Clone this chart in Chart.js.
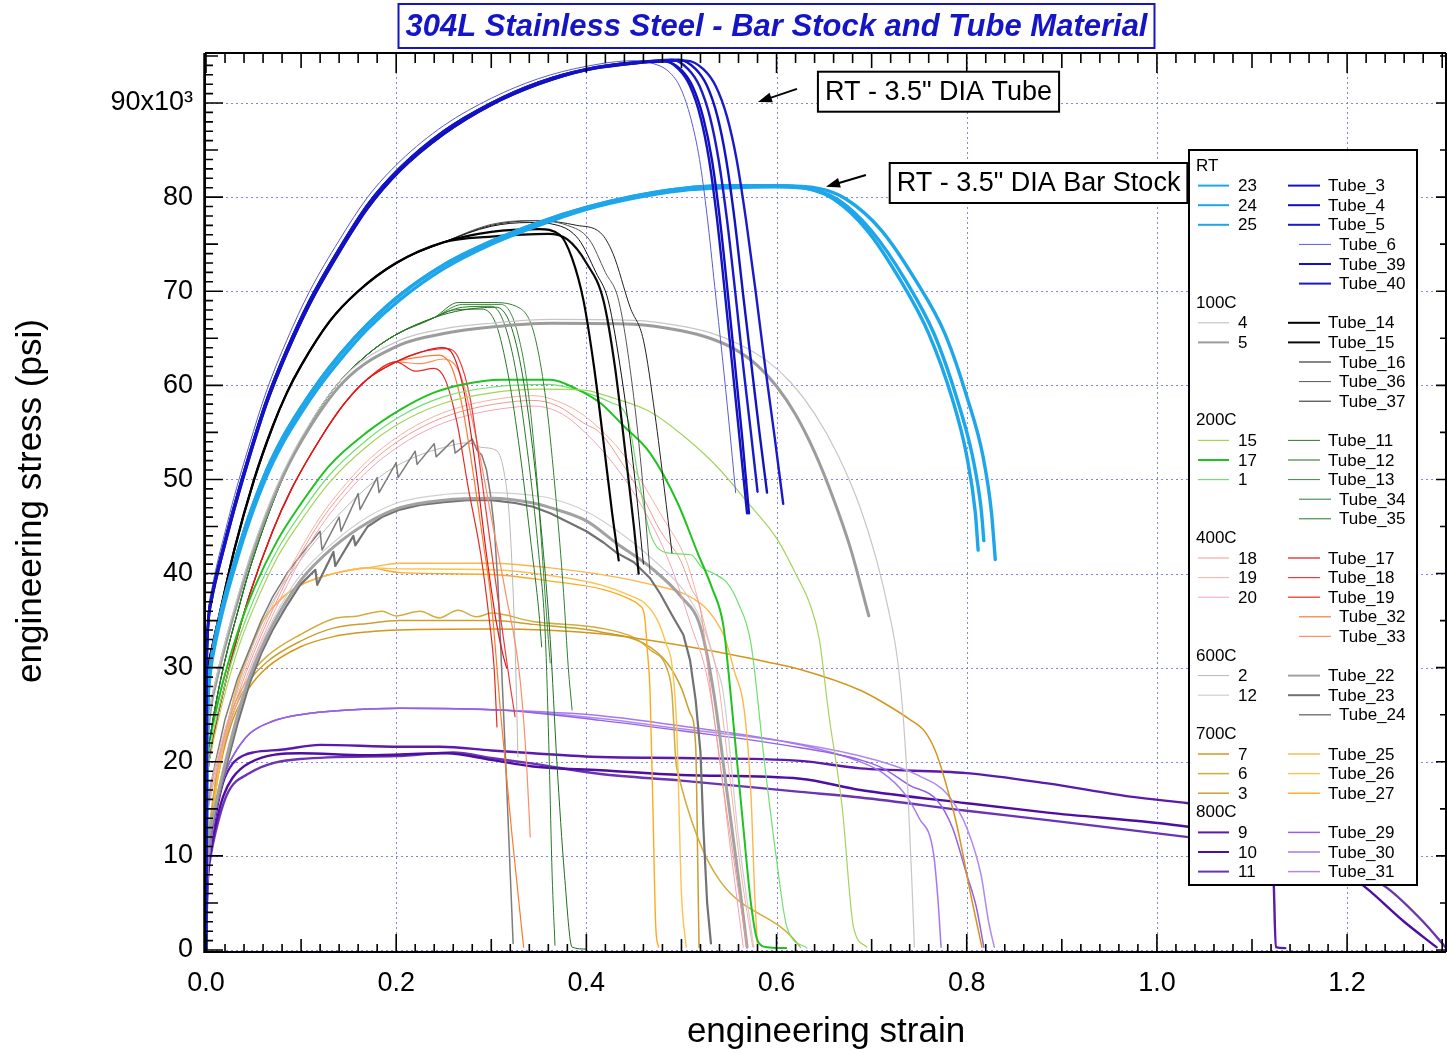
<!DOCTYPE html>
<html><head><meta charset="utf-8">
<script src="https://cdn.jsdelivr.net/npm/chart.js@4.4.1/dist/chart.umd.min.js"></script>
<style>html,body{margin:0;padding:0;background:#fff;}canvas{display:block;}</style>
</head><body>
<canvas id="c" width="1447" height="1053" style="width:1447px;height:1053px"></canvas>
<script>
// ---------- axis ticks ----------
const xTickValues = [0, 0.2, 0.4, 0.6, 0.8, 1.0, 1.2];
const xTickLabels = ['0.0', '0.2', '0.4', '0.6', '0.8', '1.0', '1.2'];
const yTickValues = [0, 10, 20, 30, 40, 50, 60, 70, 80, 90];
const yTickLabels = ['0', '10', '20', '30', '40', '50', '60', '70', '80', '90x10\u00B3'];
const X_MAX = 1.304;
const Y_MAX = 95.42;   // stress in ksi (x10^3 psi)

// ---------- RT : bar stock 23/24/25 ----------
const rtBarRiseA = [[0,0],[0.0009,22],[0.0018,26.5],[0.003,28.6],[0.005,30.5],[0.01,33.3],[0.02,37.6],[0.03,41.2],[0.045,46],[0.064,51],[0.081,54.5],[0.099,57.5],[0.12,60.6],[0.141,63.3],[0.17,66.5],[0.204,69.6],[0.25,72.8],[0.3,75.3],[0.35,77.3],[0.4,78.9],[0.45,80.1],[0.5,80.9],[0.55,81.2],[0.6,81.2]];
const rtBarRiseB = [[0,0],[0.0009,21],[0.0018,25.9],[0.003,28],[0.005,29.9],[0.01,32.7],[0.02,37],[0.03,40.6],[0.045,45.4],[0.064,50.4],[0.081,53.9],[0.099,56.9],[0.12,60],[0.141,62.7],[0.17,66],[0.204,69.1],[0.25,72.4],[0.3,75],[0.35,77],[0.4,78.7],[0.45,79.9],[0.5,80.7],[0.55,81],[0.6,81.1]];
const bar23 = rtBarRiseA.concat([[0.633,80.9],[0.66,79.8],[0.695,76.5],[0.73,71.2],[0.76,65.5],[0.785,58.5],[0.8,52.5],[0.809,46.5],[0.812,42.5]]);
const bar24 = rtBarRiseB.concat([[0.638,80.8],[0.665,79.7],[0.7,76.4],[0.736,71.1],[0.766,65.4],[0.79,58.5],[0.806,52.5],[0.815,47],[0.818,43.5]]);
const bar25 = rtBarRiseA.concat([[0.645,80.9],[0.673,79.8],[0.71,76.5],[0.746,71.2],[0.777,65.5],[0.801,58.5],[0.817,52.5],[0.826,46.5],[0.83,41.5]]);
// ---------- RT : tubes ----------
const rtTubeRiseA = [[0,0],[0.0008,30],[0.0015,33.5],[0.003,35.8],[0.006,37.6],[0.01,39.5],[0.02,43.5],[0.03,47.3],[0.045,52.5],[0.064,58.5],[0.085,63.8],[0.109,69],[0.14,74.5],[0.17,79.2],[0.204,83.1],[0.25,87],[0.3,90],[0.35,92.2],[0.4,93.6],[0.45,94.3]];
const rtTubeRiseB = [[0,0],[0.0008,29.6],[0.0015,33.1],[0.003,35.4],[0.006,37.2],[0.01,39.1],[0.02,43.1],[0.03,46.9],[0.045,52.1],[0.064,58.1],[0.085,63.4],[0.109,68.6],[0.14,74.1],[0.17,78.8],[0.204,82.8],[0.25,86.7],[0.3,89.8],[0.35,92],[0.4,93.5],[0.45,94.2]];
const rtTubeRiseC = [[0,0],[0.0008,30.5],[0.0015,34.1],[0.003,36.5],[0.006,38.3],[0.01,40.3],[0.02,44.4],[0.03,48.3],[0.045,53.5],[0.064,59.5],[0.085,64.8],[0.109,70],[0.14,75.4],[0.17,80],[0.204,83.8],[0.25,87.6],[0.3,90.5],[0.35,92.6],[0.4,93.9],[0.45,94.5]];
const tube3 = rtTubeRiseA.concat([[0.48,94.5],[0.497,93.6],[0.509,91.8],[0.52,88.5],[0.529,84],[0.537,78],[0.545,70.5],[0.553,62.5],[0.561,54.5],[0.569,46.4]]);
const tube4 = rtTubeRiseB.concat([[0.483,94.4],[0.5,93.5],[0.512,91.7],[0.523,88.4],[0.532,84],[0.54,78],[0.548,70.5],[0.556,62.5],[0.564,54.3],[0.571,46.4]]);
const tube5 = rtTubeRiseA.concat([[0.49,94.6],[0.507,93.6],[0.519,91.8],[0.53,88.5],[0.539,84],[0.548,77.5],[0.557,69.5],[0.565,62],[0.573,55],[0.58,48.7]]);
const tube6 = rtTubeRiseC.concat([[0.47,94.2],[0.487,93.3],[0.499,91.6],[0.51,88.3],[0.519,84],[0.527,78],[0.535,70.5],[0.543,63],[0.55,56],[0.557,48.6]]);
const tube39 = rtTubeRiseB.concat([[0.497,94.6],[0.515,93.6],[0.527,91.8],[0.538,88.5],[0.547,84],[0.556,77.5],[0.565,69.5],[0.574,61.8],[0.582,55],[0.59,48.6]]);
const tube40 = rtTubeRiseA.concat([[0.505,94.5],[0.523,93.6],[0.536,91.8],[0.548,88.5],[0.558,84],[0.568,77.5],[0.578,70],[0.588,62],[0.598,54.5],[0.607,47.4]]);

// ---------- 100C ----------
const bar4 = [[0,0],[0.0012,20.4],[0.0025,23.9],[0.005,26.2],[0.01,28.6],[0.02,32.7],[0.035,38.1],[0.05,42.9],[0.074,49.2],[0.1,54.4],[0.144,60.8],[0.204,64.8],[0.25,66],[0.3,66.6],[0.363,67],[0.45,66.9],[0.5,66.3],[0.53,65.6],[0.56,64.4],[0.59,62.6],[0.615,60.3],[0.64,57],[0.665,52.5],[0.688,47],[0.705,41.5],[0.718,36],[0.727,31],[0.733,25],[0.738,17],[0.742,8],[0.745,0.3]];
const bar5 = [[0,0],[0.0012,20],[0.0025,23.5],[0.005,25.8],[0.01,28.2],[0.02,32.3],[0.035,37.7],[0.05,42.5],[0.074,48.8],[0.1,54],[0.144,60.3],[0.204,64.3],[0.25,65.5],[0.3,66.2],[0.363,66.6],[0.45,66.5],[0.5,65.8],[0.53,65],[0.555,63.9],[0.58,62.1],[0.6,59.9],[0.62,56.9],[0.64,52.9],[0.66,47.9],[0.678,42.6],[0.697,35.5]];
const tube100Rise = [[0,0],[0.0008,25],[0.0016,28.5],[0.003,30.3],[0.007,32.4],[0.015,36],[0.03,42.6],[0.05,49.8],[0.07,55.6],[0.085,59.2],[0.1,62.1],[0.13,66.8],[0.16,70],[0.2,73],[0.25,75.2]];
const tube14 = tube100Rise.concat([[0.3,76.3],[0.35,76.6],[0.372,76],[0.385,73.5],[0.397,69],[0.408,62],[0.418,54],[0.427,46.5],[0.434,41.4]]);
const tube15 = tube100Rise.concat([[0.3,75.8],[0.36,76.1],[0.38,75.5],[0.4,73],[0.418,69],[0.43,62],[0.442,52],[0.45,45],[0.455,40]]);
const tube16 = tube100Rise.concat([[0.3,76.9],[0.34,77.3],[0.37,77],[0.392,75.5],[0.41,72],[0.423,69],[0.437,61],[0.45,51],[0.46,41]]);
const tube36 = tube100Rise.concat([[0.3,77.1],[0.34,77.5],[0.38,77],[0.403,75.5],[0.42,72],[0.434,69],[0.447,61],[0.458,51],[0.467,40]]);
const tube37 = tube100Rise.concat([[0.3,77],[0.35,77.5],[0.39,77],[0.415,76.2],[0.428,74],[0.446,68.3],[0.46,64.8],[0.472,57],[0.482,49],[0.49,42.2]]);

// ---------- 200C ----------
const bar15 = [[0,0],[0.001,15],[0.002,18.5],[0.005,20.8],[0.01,23.2],[0.02,27.3],[0.035,32.4],[0.05,36.3],[0.075,41.7],[0.099,45.5],[0.13,49.7],[0.169,53.5],[0.204,56],[0.25,58.1],[0.3,59.2],[0.35,59.6],[0.397,59.5],[0.43,58.6],[0.467,57.2],[0.5,54.8],[0.538,51.3],[0.57,47.5],[0.601,43.6],[0.62,40],[0.636,36.5],[0.645,33],[0.655,25],[0.669,15.2],[0.681,2.4],[0.695,0.3]];
const bar17 = [[0,0],[0.001,17],[0.002,20.5],[0.005,22.8],[0.01,25.2],[0.02,29.3],[0.035,34.3],[0.05,38.3],[0.075,43.5],[0.099,47.3],[0.13,51.5],[0.169,55],[0.204,57.4],[0.239,59.2],[0.27,60.1],[0.31,60.6],[0.362,60.6],[0.39,59.6],[0.415,58.1],[0.44,55.6],[0.467,52.8],[0.496,47.5],[0.517,42.2],[0.532,38.5],[0.544,34.5],[0.55,29],[0.555,23.7],[0.565,13.1],[0.573,5],[0.58,1],[0.59,0.3],[0.61,0.2]];
const bar1 = [[0,0],[0.001,16],[0.002,19.5],[0.005,21.8],[0.01,24.2],[0.02,28.2],[0.035,33.2],[0.05,37.2],[0.075,42.5],[0.099,46.3],[0.13,50.5],[0.169,54.2],[0.204,56.7],[0.25,58.8],[0.3,59.8],[0.36,60.1],[0.4,59.2],[0.425,58.2],[0.443,56.6],[0.455,50],[0.467,44.3],[0.485,42.2],[0.51,42],[0.522,40.6],[0.534,40],[0.548,39],[0.56,36.8],[0.573,32.6],[0.587,20.2],[0.6,9.6],[0.611,2.4],[0.632,0.2]];
const tube200Rise = [[0,0],[0.0009,17],[0.002,20.5],[0.005,23],[0.01,26],[0.02,30.8],[0.033,35.8],[0.046,40.5],[0.074,48.5],[0.1,54.2],[0.134,59.6],[0.17,63.3],[0.2,65.4],[0.24,67.2]];
const tube11 = tube200Rise.concat([[0.27,68.3],[0.3,68.4],[0.312,67],[0.325,62],[0.338,53],[0.35,42],[0.357,33],[0.361,20],[0.364,8],[0.367,0.5]]);
const tube12 = tube200Rise.concat([[0.27,68],[0.305,68.3],[0.32,66.5],[0.333,61],[0.345,52],[0.355,42],[0.362,33],[0.369,20],[0.377,8],[0.385,0.3],[0.4,0.1]]);
const tube13 = tube200Rise.concat([[0.27,68.6],[0.31,68.6],[0.325,66.5],[0.338,60],[0.348,50],[0.355,40],[0.36,33],[0.362,30.5]]);
const tube34 = tube200Rise.concat([[0.265,68.8],[0.3,68.8],[0.33,68.2],[0.345,65.5],[0.358,58],[0.368,48],[0.376,38],[0.381,30],[0.385,25.5]]);
const tube35 = tube200Rise.concat([[0.26,68],[0.29,68.1],[0.305,66.5],[0.318,61],[0.33,53],[0.342,43],[0.35,36],[0.353,32.2]]);

// ---------- 400C ----------
const bar18 = [[0,0],[0.001,12],[0.002,15],[0.005,17],[0.01,19.2],[0.02,23],[0.035,27.5],[0.05,31.5],[0.081,38.5],[0.099,42],[0.12,45.5],[0.141,48.3],[0.17,51.5],[0.204,54.2],[0.24,56.2],[0.275,57.4],[0.31,58.1],[0.344,58.4],[0.37,57.8],[0.397,56],[0.415,54.9],[0.439,51.5],[0.46,48],[0.478,44.5],[0.499,41.4],[0.51,38.5],[0.52,36.1],[0.531,27.3],[0.543,18],[0.555,9.6],[0.569,0.3]];
const bar19 = [[0,0],[0.001,12.5],[0.002,15.5],[0.005,17.5],[0.01,19.7],[0.02,23.5],[0.035,28],[0.05,32],[0.081,39],[0.099,42.5],[0.12,46],[0.141,48.8],[0.17,52],[0.204,54.7],[0.24,56.7],[0.275,57.9],[0.31,58.6],[0.344,58.9],[0.37,58.3],[0.4,56.6],[0.44,52.5],[0.48,46],[0.505,41.4],[0.518,37],[0.527,33.5],[0.538,29],[0.55,19],[0.563,8],[0.575,0.3]];
const bar20 = [[0,0],[0.001,11.4],[0.002,14.4],[0.005,16.4],[0.01,18.6],[0.02,22.4],[0.035,26.9],[0.05,30.9],[0.081,37.9],[0.099,41.4],[0.12,44.9],[0.141,47.7],[0.17,50.9],[0.204,53.6],[0.24,55.6],[0.275,56.8],[0.31,57.5],[0.344,57.8],[0.37,57.2],[0.39,55.8],[0.435,50.8],[0.47,45],[0.49,40.5],[0.51,34.5],[0.527,29],[0.538,22],[0.55,12],[0.565,0.3]];
const tube400Rise = [[0,0],[0.001,15],[0.002,18.5],[0.005,21],[0.01,23.8],[0.02,28.2],[0.033,33.3],[0.046,37.8],[0.07,44.5],[0.09,49],[0.12,54.3],[0.145,58],[0.169,60.6],[0.2,62.5]];
const tube17 = tube400Rise.concat([[0.225,63.5],[0.248,64],[0.26,63.2],[0.272,59],[0.284,51],[0.295,42],[0.305,35],[0.312,31.5],[0.316,30]]);
const tube18 = tube400Rise.concat([[0.225,63.5],[0.252,63.9],[0.265,63],[0.278,58.5],[0.29,50],[0.302,41],[0.313,33],[0.32,28],[0.325,24.8]]);
const tube19 = tube400Rise.concat([[0.22,61.5],[0.24,61.8],[0.252,60.5],[0.264,56],[0.276,49],[0.289,42],[0.298,35],[0.303,30],[0.306,23.7]]);
const tube32 = tube400Rise.concat([[0.225,63],[0.245,63.2],[0.258,62],[0.27,57.5],[0.282,50],[0.292,43],[0.3,37],[0.31,25],[0.322,12],[0.334,0.3]]);
const tube33 = tube400Rise.concat([[0.225,62.3],[0.25,62.8],[0.268,61],[0.285,54],[0.3,46],[0.315,38],[0.33,29],[0.337,20],[0.341,12]]);

// ---------- 600C ----------
const bar2 = [[0,0],[0.001,11],[0.002,14],[0.005,16.3],[0.01,18.6],[0.02,23],[0.033,27.8],[0.046,31.5],[0.07,37],[0.1,41.5],[0.13,45.2],[0.16,48.3],[0.19,50.8],[0.22,52.4],[0.25,53.4],[0.275,53.9],[0.29,53.4],[0.305,53.1],[0.313,51],[0.319,46],[0.323,38],[0.326,29],[0.328,20.5]];
const bar12 = [[0,0],[0.001,8],[0.002,11],[0.005,13.3],[0.01,15.8],[0.02,20.2],[0.033,25.3],[0.046,29.5],[0.07,35],[0.099,39.8],[0.134,43.3],[0.17,46],[0.204,47.6],[0.25,48.4],[0.3,48.6],[0.344,48.3],[0.362,48],[0.4,46.6],[0.44,44],[0.47,41.5],[0.5,38.5],[0.52,35.2],[0.535,30.5],[0.544,27.3],[0.56,12],[0.576,0.3]];
const tube22 = [[0,0],[0.001,8],[0.002,11],[0.005,13],[0.01,15.4],[0.02,19.7],[0.033,24.8],[0.046,29],[0.07,34.5],[0.099,39.2],[0.134,42.8],[0.17,45.4],[0.204,47],[0.25,47.8],[0.3,48],[0.344,47.5],[0.362,47],[0.4,45.6],[0.432,43.2],[0.467,40.7],[0.5,37.5],[0.52,34.3],[0.534,27.3],[0.548,16.7],[0.562,6.1],[0.569,0.3]];
const tube23 = [[0,0],[0.001,8],[0.002,10.5],[0.005,12.5],[0.01,15],[0.02,19],[0.033,24],[0.046,28.4],[0.058,31.5],[0.07,34],[0.085,36.6],[0.099,38.8],[0.115,40.4],[0.117,38.8],[0.134,42.3],[0.136,40.8],[0.155,44],[0.157,43],[0.17,45],[0.185,46],[0.204,46.8],[0.225,47.3],[0.25,47.6],[0.275,47.8],[0.3,47.8],[0.325,47.5],[0.344,47.1],[0.362,46.4],[0.38,45.5],[0.4,44.5],[0.418,43.3],[0.432,42.2],[0.45,41.2],[0.467,39.5],[0.478,37.8],[0.49,35.6],[0.502,33.5],[0.509,30.8],[0.515,26.5],[0.52,21],[0.523,13.1],[0.527,5],[0.531,0.7]];
const tube24 = [[0,0],[0.001,12],[0.002,15],[0.005,17.5],[0.01,20],[0.02,24.5],[0.033,28.8],[0.046,32],[0.058,35],[0.07,37.5],[0.085,40],[0.1,42],[0.12,44.5],[0.122,42.5],[0.14,46],[0.142,44.5],[0.16,48.5],[0.162,46.8],[0.18,50.2],[0.182,48.6],[0.2,51.8],[0.202,50.2],[0.22,53],[0.222,51.6],[0.24,53.8],[0.242,52.4],[0.26,54.2],[0.262,52.8],[0.28,54.3],[0.285,53.1],[0.29,52.6],[0.295,51],[0.299,48.5],[0.303,45],[0.307,39],[0.31,32],[0.313,25],[0.316,18],[0.32,8],[0.323,0.7]];

// ---------- 700C ----------
const bar7 = [[0,0],[0.001,8],[0.002,10.5],[0.005,13.2],[0.01,16.8],[0.015,19.6],[0.028,24.4],[0.045,27.8],[0.064,30],[0.099,32.2],[0.134,33.3],[0.17,33.8],[0.204,34],[0.3,34.1],[0.415,33.6],[0.52,32],[0.59,30.6],[0.625,29.8],[0.688,27.6],[0.712,26.3],[0.74,24.5],[0.756,23.2],[0.768,20.9],[0.78,17],[0.79,13.1],[0.805,5.5],[0.816,0.3]];
const bar6 = [[0,0],[0.001,9],[0.002,11.5],[0.005,14.3],[0.01,18],[0.015,20.9],[0.028,25.6],[0.045,29],[0.064,31.2],[0.099,33.5],[0.134,35.2],[0.16,35.5],[0.185,36],[0.2,35.5],[0.225,36],[0.245,35.3],[0.265,36.1],[0.285,35.4],[0.3,35.8],[0.344,34.9],[0.415,34.2],[0.45,33.2],[0.467,31.9],[0.485,29.8],[0.49,27.3],[0.494,20.2],[0.4955,19.1],[0.625,0.3]];
const bar3 = [[0,0],[0.001,8.5],[0.002,11],[0.005,13.8],[0.01,17.4],[0.015,20.2],[0.028,25],[0.045,28.5],[0.064,30.6],[0.099,32.8],[0.134,34.2],[0.17,34.7],[0.204,35],[0.3,35],[0.344,34.6],[0.415,33.8],[0.46,32.6],[0.485,30.5],[0.5,27.8],[0.509,25.2],[0.515,21.6],[0.517,10],[0.5185,0.3]];
const tube700Rise = [[0,0],[0.001,7],[0.002,9.5],[0.005,12.5],[0.011,17.5],[0.018,21.6],[0.025,25],[0.035,28.8],[0.046,31.9],[0.06,35],[0.081,37.5],[0.1,38.8],[0.134,40],[0.17,40.6]];
const tube25 = tube700Rise.concat([[0.204,41.1],[0.3,41.1],[0.362,40.6],[0.433,39.6],[0.47,38.8],[0.502,37.9],[0.513,37.3],[0.524,36.5],[0.534,35.3],[0.545,33.3],[0.556,29.5],[0.566,25.5],[0.573,16.7],[0.577,6],[0.58,0.3]]);
const tube26 = tube700Rise.concat([[0.204,40.5],[0.3,40.4],[0.362,39.8],[0.415,38.8],[0.445,37.7],[0.462,36.8],[0.475,35],[0.484,32.5],[0.49,30.3],[0.495,23.7],[0.5,6],[0.505,0.3]]);
const tube27 = tube700Rise.concat([[0.204,40.1],[0.3,39.9],[0.362,39.2],[0.418,38.3],[0.445,37.3],[0.456,36.6],[0.461,35.6],[0.464,32],[0.467,27.3],[0.47,15],[0.473,2.4],[0.476,0.3]]);

// ---------- 800C ----------
const bar9 = [[0,0],[0.001,6],[0.002,8.5],[0.005,11],[0.01,14.2],[0.018,17.8],[0.028,19.8],[0.04,20.7],[0.05,21],[0.081,21.3],[0.12,21.8],[0.204,21.6],[0.246,21.6],[0.3,21.2],[0.344,20.9],[0.415,20.5],[0.5,20.4],[0.625,20.1],[0.688,19.3],[0.8,18.8],[0.885,17.7],[0.972,16.3],[1.033,15.6],[1.08,15],[1.12,14.5],[1.123,6.6],[1.125,0.3],[1.135,0.2]];
const bar10 = [[0,0],[0.001,5.5],[0.002,8],[0.005,10.5],[0.01,13.2],[0.018,16.3],[0.028,18.3],[0.046,19.9],[0.099,20.9],[0.169,20.7],[0.253,20.9],[0.3,20.2],[0.344,19.5],[0.415,19.1],[0.5,18.6],[0.625,18.2],[0.688,17],[0.8,15.6],[0.885,14.6],[1.033,13.1],[1.12,11.5],[1.18,9.5],[1.22,6.6],[1.26,3],[1.294,0.3]];
const bar11 = [[0,0],[0.001,5],[0.002,7.5],[0.005,10],[0.01,12.5],[0.022,16.5],[0.046,18.8],[0.099,20.3],[0.2,20.6],[0.26,21],[0.3,20.4],[0.344,19.8],[0.415,18.7],[0.5,18],[0.625,16.8],[0.688,16.2],[0.8,14.8],[0.885,13.8],[1.033,12],[1.12,10.8],[1.2,9],[1.242,6.6],[1.28,3],[1.306,0]];
const tube800Rise = [[0,0],[0.001,6],[0.002,8.5],[0.005,11.3],[0.008,13.5],[0.015,17],[0.022,19.3],[0.03,20.9],[0.046,23],[0.07,24.3],[0.099,25],[0.15,25.5],[0.204,25.7],[0.31,25.5]];
const tube29 = tube800Rise.concat([[0.415,24.4],[0.5,23.3],[0.625,21.5],[0.688,20.2],[0.712,19.3],[0.74,17.5],[0.768,16],[0.785,13],[0.8,8],[0.81,4.6],[0.818,0.3]]);
const tube30 = tube800Rise.concat([[0.415,24.9],[0.5,23.8],[0.625,21.8],[0.688,20],[0.712,18.8],[0.734,16.7],[0.75,14],[0.765,10.3],[0.77,5],[0.773,0.3]]);
const tube31 = tube800Rise.concat([[0.415,24.6],[0.5,23.5],[0.625,21.9],[0.7,20.3],[0.75,18.5],[0.78,16.5],[0.8,13],[0.815,8],[0.823,3],[0.829,0.3]]);

// ---------- groups (legend order) ----------
const groups = [
  {name:'RT',   bars:[['23',bar23],['24',bar24],['25',bar25]], tubes:[['Tube_3',tube3],['Tube_4',tube4],['Tube_5',tube5],['Tube_6',tube6],['Tube_39',tube39],['Tube_40',tube40]]},
  {name:'100C', bars:[['4',bar4],['5',bar5]], tubes:[['Tube_14',tube14],['Tube_15',tube15],['Tube_16',tube16],['Tube_36',tube36],['Tube_37',tube37]]},
  {name:'200C', bars:[['15',bar15],['17',bar17],['1',bar1]], tubes:[['Tube_11',tube11],['Tube_12',tube12],['Tube_13',tube13],['Tube_34',tube34],['Tube_35',tube35]]},
  {name:'400C', bars:[['18',bar18],['19',bar19],['20',bar20]], tubes:[['Tube_17',tube17],['Tube_18',tube18],['Tube_19',tube19],['Tube_32',tube32],['Tube_33',tube33]]},
  {name:'600C', bars:[['2',bar2],['12',bar12]], tubes:[['Tube_22',tube22],['Tube_23',tube23],['Tube_24',tube24]]},
  {name:'700C', bars:[['7',bar7],['6',bar6],['3',bar3]], tubes:[['Tube_25',tube25],['Tube_26',tube26],['Tube_27',tube27]]},
  {name:'800C', bars:[['9',bar9],['10',bar10],['11',bar11]], tubes:[['Tube_29',tube29],['Tube_30',tube30],['Tube_31',tube31]]}
];

// ---------- styles: [colour, line width] ----------
const styles = {
  '23':['#1ea6ea',3.4],'24':['#1ea6ea',3.4],'25':['#1ea6ea',3.4],
  'Tube_3':['#1414c4',2.4],'Tube_4':['#1010c0',2.4],'Tube_5':['#1a1ac8',2.4],'Tube_6':['#5a5ad8',1],'Tube_39':['#1212c4',2.4],'Tube_40':['#1a1acc',2.4],
  '4':['#c6c6c6',1.2],'5':['#9c9c9c',3],
  'Tube_14':['#000000',2.2],'Tube_15':['#0a0a0a',2.2],'Tube_16':['#111111',1],'Tube_36':['#555555',1],'Tube_37':['#222222',1],
  '15':['#a4d45a',1.2],'17':['#1fc21f',2],'1':['#6fe06f',1.2],
  'Tube_11':['#2a7a2a',1],'Tube_12':['#1f6f1f',1],'Tube_13':['#3a8a3a',1],'Tube_34':['#2f7f2f',1],'Tube_35':['#287828',1],
  '18':['#f09a8c',1],'19':['#f4b0a4',1],'20':['#f4a4b6',1],
  'Tube_17':['#e0141c',1.2],'Tube_18':['#f03a3a',1.2],'Tube_19':['#e62a22',1.2],'Tube_32':['#ff7a2c',1.2],'Tube_33':['#ff8c6a',1.2],
  '2':['#b8b8b8',1],'12':['#cfcfcf',1.2],'Tube_22':['#a2a2a2',3],'Tube_23':['#727272',2.2],'Tube_24':['#7c7c7c',1.5],
  '7':['#d4961c',1.5],'6':['#d2ac3c',1.5],'3':['#c9a030',1.5],
  'Tube_25':['#ffb648',1.4],'Tube_26':['#ffc24e',1.4],'Tube_27':['#ffaa1e',1.4],
  '9':['#5a1aac',2.4],'10':['#4e0ea2',2.4],'11':['#6a34b4',2.4],
  'Tube_29':['#9460e6',1.5],'Tube_30':['#a478f0',1.5],'Tube_31':['#b088f2',1.5]
};
const jagged = ['Tube_23', 'Tube_24'];

const datasets = [];
groups.forEach(g => {
  g.tubes.concat(g.bars).forEach(([label, pts]) => {
    const st = styles[label];
    const ds = {label, data: pts.map(p => ({x:p[0], y:p[1]})), borderColor: st[0], borderWidth: st[1],
      showLine: true, pointRadius: 0, fill: false};
    if (jagged.includes(label)) { ds.tension = 0; } else { ds.cubicInterpolationMode = 'monotone'; }
    datasets.push(ds);
  });
});

const FONT = "'Liberation Sans', Arial, Helvetica, sans-serif";
const TITLE = '304L Stainless Steel - Bar Stock and Tube Material';
const annotations = [
  {text: 'RT - 3.5" DIA Tube', boxX: 0.6435, boxY: 91.2, tail: [0.6215, 91.5], head: [0.5804, 90.1]},
  {text: 'RT - 3.5" DIA Bar Stock', boxX: 0.719, boxY: 81.5, tail: [0.694, 82.35], head: [0.652, 81.1]}
];

const decorPlugin = {
  id: 'decor',
  beforeDatasetsDraw(chart) {
    const {ctx, chartArea: a, scales: {x, y}} = chart;
    ctx.save();
    ctx.strokeStyle = 'rgba(110,110,225,0.85)';
    ctx.lineWidth = 1;
    ctx.setLineDash([2, 3]);
    xTickValues.forEach(v => { if (v === 0) return; const px = Math.round(x.getPixelForValue(v)) + 0.5;
      ctx.beginPath(); ctx.moveTo(px, a.top); ctx.lineTo(px, a.bottom); ctx.stroke(); });
    yTickValues.forEach(v => { const py = Math.round(y.getPixelForValue(v)) + 0.5;
      ctx.beginPath(); ctx.moveTo(a.left, py); ctx.lineTo(a.right, py); ctx.stroke(); });
    ctx.restore();
  },
  afterDatasetsDraw(chart) {
    const {ctx, chartArea: a, scales: {x, y}} = chart;
    ctx.save();
    // frame
    ctx.strokeStyle = '#000'; ctx.lineWidth = 2;
    const L = a.left - 1, B = a.bottom + 2, T = a.top + 1, R = a.right;
    ctx.beginPath(); ctx.moveTo(L, T); ctx.lineTo(L, B + 1); ctx.moveTo(L - 1, B); ctx.lineTo(R, B);
    ctx.moveTo(L, T); ctx.lineTo(R, T); ctx.moveTo(R, T); ctx.lineTo(R, B); ctx.stroke();
    ctx.lineWidth = 2.5; ctx.beginPath(); ctx.moveTo(L - 0.5, T); ctx.lineTo(L - 0.5, B + 1); ctx.stroke();
    // ticks
    ctx.lineWidth = 1.6;
    ctx.beginPath();
    for (let i = 0; i <= 95; i++) {
      const py = y.getPixelForValue(i);
      const len = i % 10 === 0 ? 18 : (i % 5 === 0 ? 13 : 8);
      ctx.moveTo(L, py); ctx.lineTo(L + len, py);
      if (i % 5 === 0) { const rl = i % 10 === 0 ? 10 : 6; ctx.moveTo(R, py); ctx.lineTo(R - rl, py); }
    }
    for (let i = 0; i <= 65; i++) {
      const v = i * 0.02; if (v > X_MAX) break;
      const px = x.getPixelForValue(v);
      const len = i % 10 === 0 ? 20 : (i % 5 === 0 ? 15 : 10);
      ctx.moveTo(px, T); ctx.lineTo(px, T + len);
      const bl = i % 10 === 0 ? 18 : (i % 5 === 0 ? 13 : 8);
      ctx.moveTo(px, B); ctx.lineTo(px, B - bl);
    }
    ctx.stroke();

    // annotations
    ctx.font = '27px ' + FONT; ctx.textBaseline = 'middle'; ctx.fillStyle = '#000';
    annotations.forEach(an => {
      const bx = x.getPixelForValue(an.boxX), by = y.getPixelForValue(an.boxY);
      const w = ctx.measureText(an.text).width + 14, h = 40;
      ctx.fillStyle = '#fff'; ctx.fillRect(bx, by - h / 2, w, h);
      ctx.strokeStyle = '#000'; ctx.lineWidth = 2; ctx.strokeRect(bx, by - h / 2, w, h);
      ctx.fillStyle = '#000'; ctx.textAlign = 'left'; ctx.fillText(an.text, bx + 7, by + 1);
      const tx = x.getPixelForValue(an.tail[0]), ty = y.getPixelForValue(an.tail[1]);
      const hx = x.getPixelForValue(an.head[0]), hy = y.getPixelForValue(an.head[1]);
      const ang = Math.atan2(hy - ty, hx - tx);
      ctx.lineWidth = 2; ctx.beginPath(); ctx.moveTo(tx, ty);
      ctx.lineTo(hx - 10 * Math.cos(ang), hy - 10 * Math.sin(ang)); ctx.stroke();
      ctx.beginPath(); ctx.moveTo(hx, hy);
      ctx.lineTo(hx - 14 * Math.cos(ang) + 5 * Math.sin(ang), hy - 14 * Math.sin(ang) - 5 * Math.cos(ang));
      ctx.lineTo(hx - 14 * Math.cos(ang) - 5 * Math.sin(ang), hy - 14 * Math.sin(ang) + 5 * Math.cos(ang));
      ctx.closePath(); ctx.fill();
    });

    // legend
    const lx = 1189, ly = 150, lw = 228, lh = 735, rowH = 19.6;
    ctx.fillStyle = '#fff'; ctx.fillRect(lx, ly, lw, lh);
    ctx.strokeStyle = '#000'; ctx.lineWidth = 2; ctx.strokeRect(lx, ly, lw, lh);
    ctx.font = '17px ' + FONT; ctx.textAlign = 'left'; ctx.textBaseline = 'middle';
    let ry = 166;
    groups.forEach(g => {
      ctx.fillStyle = '#000'; ctx.fillText(g.name, 1196, ry); ry += rowH;
      const n = Math.max(g.bars.length, g.tubes.length);
      for (let r = 0; r < n; r++) {
        if (g.bars[r]) {
          const st = styles[g.bars[r][0]];
          ctx.strokeStyle = st[0]; ctx.lineWidth = Math.min(st[1], 2);
          ctx.beginPath(); ctx.moveTo(1198, ry); ctx.lineTo(1229, ry); ctx.stroke();
          ctx.fillStyle = '#000'; ctx.fillText(g.bars[r][0], 1238, ry + 1);
        }
        if (g.tubes[r]) {
          const st = styles[g.tubes[r][0]];
          const tx = g.bars[r] ? 1328 : 1339;
          ctx.strokeStyle = st[0]; ctx.lineWidth = Math.min(st[1], 2);
          ctx.beginPath(); ctx.moveTo(tx - 40, ry); ctx.lineTo(tx - 8, ry); ctx.stroke();
          ctx.fillStyle = '#000'; ctx.fillText(g.tubes[r][0], tx, ry + 1);
        }
        ry += rowH;
      }
    });

    // title
    ctx.font = 'italic bold 31px ' + FONT; ctx.textAlign = 'center'; ctx.textBaseline = 'middle';
    const tw = ctx.measureText(TITLE).width;
    const cx = 776.5;
    ctx.fillStyle = '#fff'; ctx.fillRect(cx - tw / 2 - 7, 4, tw + 14, 44);
    ctx.strokeStyle = '#1515c8'; ctx.lineWidth = 2; ctx.strokeRect(cx - tw / 2 - 7, 4, tw + 14, 44);
    ctx.fillStyle = '#1515c8'; ctx.fillText(TITLE, cx, 27);
    ctx.restore();
  }
};

new Chart(document.getElementById('c').getContext('2d'), {
  type: 'scatter',
  data: {datasets},
  options: {
    responsive: false, animation: false, devicePixelRatio: 1,
    layout: {padding: {top: 52, right: 1, left: 0, bottom: 0}},
    plugins: {legend: {display: false}, tooltip: {enabled: false}, title: {display: false, text: TITLE}},
    elements: {point: {radius: 0}, line: {borderJoinStyle: 'round', borderCapStyle: 'round'}},
    scales: {
      x: {
        type: 'linear', min: 0, max: X_MAX,
        afterFit(s) { s.height = 103; },
        afterBuildTicks(s) { s.ticks = xTickValues.map(v => ({value: v})); },
        ticks: {autoSkip: false, maxRotation: 0, padding: 17, color: '#000', font: {family: FONT, size: 27},
          callback: (v) => xTickLabels[xTickValues.indexOf(v)]},
        grid: {display: false, drawTicks: false}, border: {display: false},
        title: {display: true, text: 'engineering strain', color: '#000', font: {family: FONT, size: 35}, padding: {top: 0, bottom: 0}}
      },
      y: {
        type: 'linear', min: 0, max: Y_MAX,
        afterFit(s) { s.width = 206; },
        afterBuildTicks(s) { s.ticks = yTickValues.map(v => ({value: v})); },
        ticks: {autoSkip: false, padding: 13, color: '#000', font: {family: FONT, size: 27},
          callback: (v) => yTickLabels[yTickValues.indexOf(v)]},
        grid: {display: false, drawTicks: false}, border: {display: false},
        title: {display: true, text: 'engineering stress (psi)', color: '#000', font: {family: FONT, size: 35}, padding: {top: 10, bottom: 0}}
      }
    }
  },
  plugins: [decorPlugin]
});
</script>
</body></html>
